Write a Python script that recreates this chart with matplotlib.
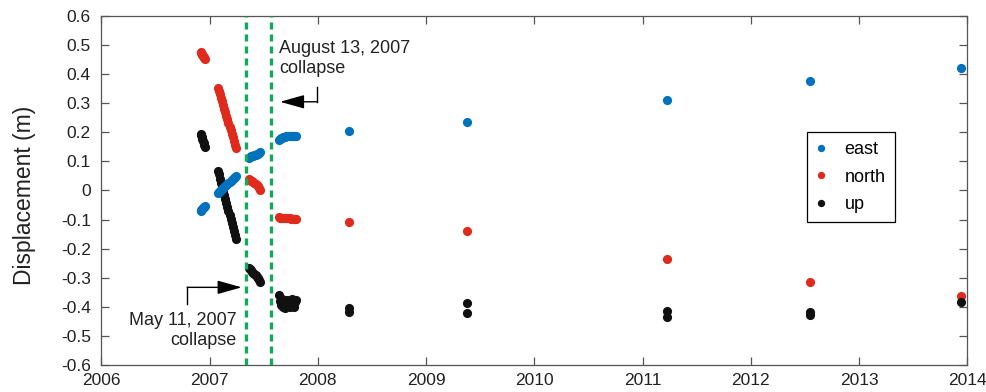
"""GPS displacement time series (east / north / up) around the 2007 collapses."""

import matplotlib

matplotlib.use("Agg")
import matplotlib.pyplot as plt
import numpy as np

plt.rcParams["font.family"] = ["Liberation Sans", "DejaVu Sans"]
plt.rcParams["axes.unicode_minus"] = False

EAST_COLOR = "#0072bd"
NORTH_COLOR = "#e02a1b"
UP_COLOR = "#111111"
EVENT_COLOR = "#13a85a"

# continuous segment before the first collapse (late 2006)
seg_a_time = [2006.92, 2006.925, 2006.93, 2006.935, 2006.94, 2006.945, 2006.95, 2006.955]
seg_a_east = [-0.069, -0.067, -0.065, -0.063, -0.061, -0.058, -0.056, -0.053]
seg_a_north = [0.475, 0.472, 0.469, 0.466, 0.463, 0.459, 0.456, 0.452]
seg_a_up = [0.195, 0.190, 0.183, 0.176, 0.170, 0.163, 0.155, 0.148]

# early 2007
seg_b_time = [2007.075, 2007.085, 2007.095, 2007.105, 2007.115, 2007.125, 2007.135, 2007.145, 2007.155,
              2007.165, 2007.175, 2007.185, 2007.195, 2007.205, 2007.215, 2007.225, 2007.235, 2007.245]
seg_b_east = [-0.007, -0.004, -0.001, 0.003, 0.006, 0.010, 0.013, 0.016, 0.019,
              0.023, 0.026, 0.029, 0.033, 0.036, 0.040, 0.043, 0.047, 0.050]
seg_b_north = [0.354, 0.343, 0.331, 0.318, 0.306, 0.293, 0.281, 0.269, 0.257,
               0.245, 0.232, 0.220, 0.208, 0.195, 0.183, 0.170, 0.158, 0.146]
seg_b_up = [0.067, 0.055, 0.041, 0.027, 0.012, -0.002, -0.016, -0.030, -0.044,
            -0.057, -0.071, -0.085, -0.099, -0.113, -0.126, -0.140, -0.154, -0.167]

# between the two collapses
seg_c_time = [2007.365, 2007.375, 2007.385, 2007.395, 2007.405, 2007.415,
              2007.425, 2007.435, 2007.445, 2007.455, 2007.465]
seg_c_east = [0.113, 0.116, 0.118, 0.119, 0.120, 0.121, 0.122, 0.124, 0.127, 0.130, 0.133]
seg_c_north = [0.040, 0.037, 0.034, 0.031, 0.029, 0.027, 0.024, 0.020, 0.015, 0.009, 0.003]
seg_c_up = [-0.265, -0.270, -0.275, -0.279, -0.283, -0.287, -0.291, -0.296, -0.302, -0.309, -0.316]

# after the August collapse
seg_d_time = [2007.64, 2007.65, 2007.66, 2007.67, 2007.68, 2007.69, 2007.70, 2007.71, 2007.72,
              2007.73, 2007.74, 2007.75, 2007.76, 2007.77, 2007.78, 2007.79, 2007.80]
seg_d_east = [0.174, 0.177, 0.179, 0.181, 0.183, 0.184, 0.185, 0.186, 0.186,
              0.187, 0.187, 0.187, 0.188, 0.188, 0.188, 0.188, 0.188]
seg_d_north = [-0.092, -0.093, -0.093, -0.094, -0.094, -0.095, -0.095, -0.095, -0.096,
               -0.096, -0.096, -0.097, -0.097, -0.098, -0.098, -0.099, -0.099]
seg_d_up = [-0.360, -0.380, -0.395, -0.372, -0.400, -0.385, -0.405, -0.390, -0.378,
            -0.395, -0.402, -0.385, -0.372, -0.392, -0.400, -0.383, -0.375]

# later campaign measurements
camp_time = [2008.29, 2009.375, 2011.23, 2012.55, 2013.94]
camp_east = [0.205, 0.237, 0.311, 0.377, 0.422]
camp_north = [-0.108, -0.138, -0.236, -0.315, -0.363]
camp_up_time = [2008.29, 2008.29, 2009.375, 2009.375, 2011.23, 2011.23, 2012.55, 2012.55, 2013.94]
camp_up = [-0.404, -0.419, -0.388, -0.420, -0.413, -0.436, -0.418, -0.428, -0.384]

collapse_dates = [2007.334, 2007.565]

x_ticks = [2006, 2007, 2008, 2009, 2010, 2011, 2012, 2013, 2014]
y_ticks = [-0.6, -0.5, -0.4, -0.3, -0.2, -0.1, 0.0, 0.1, 0.2, 0.3, 0.4, 0.5, 0.6]

east_t = seg_a_time + seg_b_time + seg_c_time + seg_d_time + camp_time
east_v = seg_a_east + seg_b_east + seg_c_east + seg_d_east + camp_east
north_t = seg_a_time + seg_b_time + seg_c_time + seg_d_time + camp_time
north_v = seg_a_north + seg_b_north + seg_c_north + seg_d_north + camp_north
up_t = seg_a_time + seg_b_time + seg_c_time + seg_d_time + camp_up_time
up_v = seg_a_up + seg_b_up + seg_c_up + seg_d_up + camp_up

fig = plt.figure(figsize=(9.87, 3.92), dpi=100)
ax = fig.add_axes([0.1026, 0.0689, 0.8775, 0.8903])

marker_kw = dict(linestyle="none", marker="o", markersize=6.6, markeredgewidth=0)
(h_north,) = ax.plot(north_t, north_v, color=NORTH_COLOR, label="north", zorder=2, **marker_kw)
(h_up,) = ax.plot(up_t, up_v, color=UP_COLOR, label="up", zorder=3, **marker_kw)
(h_east,) = ax.plot(east_t, east_v, color=EAST_COLOR, label="east", zorder=4, **marker_kw)

for date in collapse_dates:
    ax.axvline(date, color=EVENT_COLOR, linewidth=2.4, linestyle=(0, (2.1, 1.5)), zorder=5)

ax.set_xlim(2006, 2014)
ax.set_ylim(-0.6, 0.6)
ax.set_xticks(x_ticks)
ax.set_xticklabels([str(t) for t in x_ticks])
ax.set_yticks(y_ticks)
ax.set_yticklabels([f"{v:g}" for v in np.round(y_ticks, 1)])

ax.tick_params(axis="both", direction="in", top=True, right=True, length=5.5, width=0.9,
               color="#555555", labelsize=12.5, labelcolor="#222222")
ax.tick_params(axis="x", pad=5.8)
ax.tick_params(axis="y", pad=7.5)
for spine in ax.spines.values():
    spine.set_color("#555555")
    spine.set_linewidth(0.9)

ax.set_ylabel("Displacement (m)", fontsize=16.5, color="#222222")
ax.yaxis.set_label_coords(-0.075, 0.487)

arrow_style = "-|>,head_length=1.5,head_width=0.42"

# August collapse label and elbow arrow (baseline of the last line)
ax.text(2007.643, 0.404, "August 13, 2007\ncollapse", fontsize=13, ha="left", va="baseline",
        color="#222222", linespacing=1.2)
ax.plot([2007.99, 2007.99], [0.357, 0.305], color="black", linewidth=1.0)
ax.annotate("", xy=(2007.651, 0.305), xytext=(2007.99, 0.305),
            arrowprops=dict(arrowstyle=arrow_style, color="black", linewidth=1.0,
                            shrinkA=0, shrinkB=0, mutation_scale=10))

# May collapse label and elbow arrow
ax.text(2007.251, -0.531, "May 11, 2007\ncollapse", fontsize=13, ha="right", va="baseline",
        color="#222222", linespacing=1.2, multialignment="right")
ax.plot([2006.794, 2006.794], [-0.390, -0.333], color="black", linewidth=1.0)
ax.annotate("", xy=(2007.297, -0.333), xytext=(2006.794, -0.333),
            arrowprops=dict(arrowstyle=arrow_style, color="black", linewidth=1.0,
                            shrinkA=0, shrinkB=0, mutation_scale=10))

legend = ax.legend(handles=[h_east, h_north, h_up], loc="upper left", bbox_to_anchor=(0.8146, 0.667),
                   borderaxespad=0, fontsize=13, handlelength=0.6, handletextpad=1.0, borderpad=0.5,
                   labelspacing=0.58, markerscale=0.8, fancybox=False, edgecolor="black",
                   framealpha=1)
legend.get_frame().set_linewidth(0.9)

fig.savefig("out.png", dpi=100)
plt.close(fig)
